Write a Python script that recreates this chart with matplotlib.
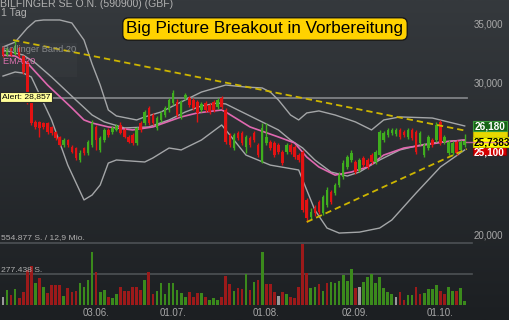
import numpy as np
import matplotlib.pyplot as plt
from matplotlib.patches import Rectangle
from matplotlib.colors import LinearSegmentedColormap

plt.rcParams['font.family'] = ['Liberation Sans', 'DejaVu Sans']

# daily candles (EUR), first one at end of April, last one early October
open_ = [32.92, 32.31, 32.84, 32.40, 32.92, 32.23, 31.72, 28.45, 27.06, 27.06,
         26.98, 26.98, 26.70, 26.35, 26.00, 25.45, 25.79, 25.32, 25.25, 24.46,
         25.25, 24.92, 25.45, 26.70, 25.12, 25.79, 26.49, 26.35, 26.49, 26.84,
         26.49, 26.00, 26.14, 25.59, 26.98, 26.98, 28.08, 27.56, 26.63, 27.20,
         27.56, 27.93, 28.45, 28.53, 27.42, 28.83, 28.83, 28.68, 28.53, 27.93,
         28.45, 28.30, 28.53, 28.15, 28.83, 27.93, 26.14, 25.25, 26.28, 26.28,
         25.32, 25.93, 26.28, 25.45, 24.33, 25.59, 25.66, 25.59, 25.45, 24.99,
         24.99, 25.45, 25.32, 24.78, 24.99, 22.00, 21.03, 21.54, 21.88, 21.25,
         21.71, 22.47, 22.41, 22.89, 23.38, 24.01, 24.46, 24.33, 23.82, 24.59,
         24.46, 24.78, 24.33, 24.78, 25.79, 26.14, 26.28, 26.21, 26.49, 26.35,
         26.00, 26.49, 26.35, 25.59, 24.78, 25.25, 25.79, 25.79, 27.06, 25.66,
         24.92, 24.92, 25.66, 25.12, 25.45]
close = [32.31, 32.84, 32.31, 33.09, 32.23, 30.89, 28.53, 26.98, 26.70, 26.63,
         26.70, 26.35, 26.28, 25.93, 25.45, 25.79, 25.45, 24.99, 24.59, 24.92,
         24.92, 25.66, 26.98, 25.79, 25.93, 26.49, 26.14, 26.63, 26.77, 26.28,
         26.00, 25.66, 25.59, 26.63, 26.49, 27.78, 26.98, 26.98, 27.34, 27.71,
         28.08, 28.68, 29.22, 27.56, 28.53, 29.06, 28.30, 28.08, 27.71, 28.38,
         27.93, 27.78, 27.93, 28.68, 28.15, 25.66, 25.45, 26.14, 25.93, 25.59,
         26.00, 25.45, 25.79, 24.78, 26.63, 26.00, 25.25, 24.78, 24.99, 24.26,
         25.45, 24.99, 24.65, 24.46, 21.42, 20.97, 21.31, 21.25, 21.31, 22.18,
         22.59, 21.88, 22.89, 23.50, 24.26, 24.65, 24.92, 23.69, 24.46, 24.13,
         24.01, 24.33, 24.99, 26.35, 26.28, 26.49, 26.49, 26.49, 26.00, 26.14,
         26.49, 25.93, 24.99, 26.28, 25.45, 26.00, 25.45, 26.84, 25.59, 26.00,
         25.66, 25.59, 24.92, 25.66, 25.74]
high = [33.09, 33.01, 33.01, 33.62, 33.09, 32.31, 31.89, 28.53, 27.20, 27.13,
        27.06, 27.06, 26.77, 26.42, 26.07, 25.93, 25.86, 25.45, 25.32, 25.12,
        25.32, 25.79, 27.20, 26.84, 26.07, 26.63, 26.63, 26.77, 26.91, 27.06,
        26.63, 26.14, 26.28, 26.70, 27.13, 27.93, 28.23, 27.71, 27.49, 27.86,
        28.23, 28.83, 29.45, 28.76, 28.68, 29.22, 28.98, 28.83, 28.68, 28.53,
        28.60, 28.45, 28.68, 28.83, 28.98, 28.08, 26.28, 26.28, 26.42, 26.42,
        26.14, 26.07, 26.42, 25.59, 26.98, 26.98, 25.79, 25.72, 25.59, 25.12,
        25.59, 25.59, 25.45, 24.92, 25.12, 22.12, 21.54, 21.71, 22.00, 22.29,
        22.77, 22.59, 23.01, 23.69, 24.46, 24.78, 25.12, 24.46, 24.59, 24.72,
        24.59, 24.92, 25.12, 26.49, 26.42, 26.63, 26.63, 26.63, 26.63, 26.49,
        26.63, 26.63, 26.49, 26.42, 25.59, 26.14, 25.93, 27.06, 27.20, 26.14,
        25.79, 25.72, 25.79, 25.79, 26.18]
low = [32.14, 32.23, 32.23, 32.31, 32.06, 30.72, 28.38, 26.84, 26.56, 26.00,
       26.56, 26.21, 26.14, 25.79, 25.39, 25.32, 25.32, 24.92, 24.46, 24.33,
       24.78, 24.78, 25.32, 25.12, 24.99, 25.66, 26.00, 26.21, 26.42, 26.21,
       25.93, 25.59, 25.45, 25.45, 26.35, 26.84, 26.84, 26.84, 26.49, 27.06,
       27.42, 27.78, 28.30, 27.42, 27.27, 28.68, 28.15, 27.93, 27.06, 27.78,
       27.78, 27.63, 27.78, 28.00, 28.00, 25.52, 25.32, 25.12, 25.79, 25.45,
       24.92, 25.32, 25.66, 24.65, 24.26, 25.45, 25.12, 24.65, 24.85, 24.13,
       24.85, 24.85, 24.52, 24.33, 21.31, 20.75, 20.92, 21.08, 21.20, 21.14,
       21.60, 21.77, 22.29, 22.77, 23.25, 23.88, 24.33, 23.56, 23.69, 24.01,
       23.88, 24.20, 24.20, 24.65, 25.66, 26.00, 26.14, 26.07, 25.86, 26.00,
       25.86, 25.79, 24.85, 25.45, 24.65, 25.12, 25.32, 25.66, 25.45, 25.52,
       24.78, 24.78, 24.78, 24.99, 25.32]

# volume in thousand shares, g = up, r = down, n = unchanged
volume = [69, 134, 90, 143, 63, 119, 313, 352, 200, 240,
          164, 110, 182, 182, 182, 81, 149, 113, 128, 200,
          158, 224, 471, 298, 119, 134, 74, 60, 98, 164,
          125, 125, 164, 164, 134, 224, 298, 98, 128, 200,
          96, 194, 194, 134, 104, 69, 119, 74, 104, 110,
          69, 45, 60, 45, 69, 260, 185, 125, 149, 143,
          277, 134, 203, 224, 471, 188, 188, 119, 81, 119,
          98, 74, 65, 164, 546, 284, 149, 158, 188, 128,
          194, 206, 194, 215, 268, 215, 319, 149, 158, 203,
          253, 277, 194, 248, 155, 113, 98, 74, 119, 45,
          90, 90, 164, 98, 110, 143, 143, 179, 125, 98,
          158, 125, 128, 149, 40]
vol_dir = ("ngrgrrrrgr" "grrrrgrrrg" "gggrggrggr" "rrrrrgrrgg" "ggggggrrrg"
           "rgggrrrgrr" "grgrgrrrnr" "grrrrrggrg" "rggggggrng" "gggggggnrr"
           "ggrrggggrr" "ggrgg")

# indicator lines (candle index, price)
upper_i = [0, 3, 6, 8, 10, 14, 17, 20, 22, 24, 26, 28, 33, 35, 39, 44, 49, 55, 60,
           64, 66, 68, 71, 73, 75, 78, 82, 87, 91, 94, 98, 106, 114]
upper_v = [33.01, 33.44, 34.71, 35.37, 35.46, 35.46, 35.18, 33.62, 31.55, 29.84,
           27.93, 27.49, 27.20, 27.42, 27.78, 28.53, 29.29, 29.84, 29.68, 29.61,
           29.29, 28.68, 27.56, 27.20, 27.71, 27.86, 27.56, 27.06, 26.49, 27.20,
           27.42, 27.34, 26.77]
mid_i = [0, 5, 8, 12, 18, 22, 25, 30, 36, 41, 45, 49, 53, 55, 58, 63, 68, 71, 74,
         77, 81, 85, 88, 93, 98, 103, 108, 114]
mid_v = [32.75, 32.31, 31.64, 30.48, 28.68, 27.56, 27.06, 26.63, 26.70, 27.20,
         27.78, 28.23, 28.45, 28.38, 27.93, 27.20, 26.49, 25.79, 25.25, 24.46,
         23.69, 23.44, 23.69, 24.46, 25.12, 25.45, 25.66, 25.79]
ema_i = [0, 3, 6, 11, 17, 20, 22, 26, 32, 37, 44, 48, 54, 55, 61, 68, 72, 75, 78,
         82, 86, 90, 94, 99, 104, 109, 114]
ema_v = [32.31, 32.23, 31.64, 29.84, 28.08, 27.20, 26.98, 26.70, 26.49, 26.70,
         27.42, 27.71, 27.93, 27.78, 26.70, 26.00, 25.59, 24.65, 24.01, 23.50,
         23.69, 24.01, 24.78, 25.25, 25.45, 25.66, 25.79]
lower_i = [0, 3, 5, 7, 12, 16, 20, 22, 24, 26, 28, 35, 37, 41, 44, 49, 54, 56, 60,
           66, 73, 74, 77, 80, 83, 88, 93, 96, 102, 108, 114]
lower_v = [30.56, 30.89, 30.80, 30.48, 27.20, 24.13, 22.00, 22.29, 22.89, 24.26,
           24.46, 24.33, 24.59, 25.25, 25.12, 25.79, 26.84, 26.14, 24.78, 24.13,
           23.82, 23.19, 21.42, 20.42, 20.15, 20.20, 20.42, 20.86, 22.41, 24.01,
           25.12]

# triangle trend lines
trend_hi_i = [2.5, 114.5]
trend_hi_v = [33.62, 26.42]
trend_lo_i = [75, 114.5]
trend_lo_v = [20.75, 25.19]

alert = 28.857
date_idx = [23, 42, 65, 87, 108]
date_lbl = ['03.06.', '01.07.', '01.08.', '02.09.', '01.10.']
price_ticks = [20, 30, 35]

W, H = 510, 320


def fx(px):
    return px / W


def fy(py):
    return 1 - py / H


fig = plt.figure(figsize=(W / 100, H / 100), dpi=100)

# background gradient
bg = fig.add_axes([0, 0, 1, 1])
bg.axis('off')
cmap = LinearSegmentedColormap.from_list('bg', ['#35393d', '#1c1f22'])
bg.imshow(np.linspace(0, 1, 256).reshape(-1, 1), aspect='auto', cmap=cmap,
          extent=[0, 1, 0, 1])
bg.set_xlim(0, 1)
bg.set_ylim(0, 1)

xlim = (-0.74, 115.8)

# volume panel (drawn first, lies under the price chart)
axv = fig.add_axes([0, 15 / H, 472 / W, 62 / H])
axv.axis('off')
axv.set_xlim(*xlim)
axv.set_ylim(0, 554.877)
vcol = {'g': '#3b8a1c', 'r': '#9c1a1a', 'n': '#9a9a9a'}
axv.bar(np.arange(len(volume)), volume, width=0.65,
        color=[vcol[c] for c in vol_dir], lw=0)
for lv in [554.877, 277.438]:
    axv.axhline(lv, color='#4d5155', lw=1.2, clip_on=False, zorder=0)

# price panel
ax = fig.add_axes([0, 0, 472 / W, 1])
ax.axis('off')
ax.set_yscale('log')
ax.set_xlim(*xlim)
ax.set_ylim(16.0, 37.39)

ax.axhline(alert, xmax=467 / 472, color='#7e8185', lw=1.3, zorder=1)

ax.plot(upper_i, upper_v, color='#a4a6a8', lw=1, zorder=2)
ax.plot(lower_i, lower_v, color='#a4a6a8', lw=1, zorder=2)
ax.plot(mid_i, mid_v, color='#a4a6a8', lw=1, zorder=2)
ax.plot(ema_i, ema_v, color='#e068b0', lw=1.2, zorder=3)

x = np.arange(len(close))
o = np.array(open_)
c = np.array(close)
cols = np.where(c >= o, '#3fae1e', '#e31212')
ax.vlines(x, low, high, colors=cols, lw=1, zorder=4)
ax.bar(x, np.maximum(np.abs(c - o), 0.05), bottom=np.minimum(o, c),
       width=0.62, color=cols, lw=0, zorder=5)

ax.plot(trend_hi_i, trend_hi_v, color='#cdb500', lw=1.3, ls=(0, (3.5, 2.2)), zorder=6)
ax.plot(trend_lo_i, trend_lo_v, color='#cdb500', lw=1.3, ls=(0, (3.5, 2.2)), zorder=6)

# date labels
for i, lbl in zip(date_idx, date_lbl):
    ax.text(i, fy(313), lbl, transform=ax.get_xaxis_transform(), color='#a8a8a8',
            fontsize=7, ha='center', va='center')

# price axis labels on the right
for p in price_ticks:
    ax.text(488 / 472, p, f'{p},000', transform=ax.get_yaxis_transform(),
            color='#a8a8a8', fontsize=7, ha='center', va='center', clip_on=False)

# header texts
fig.text(fx(0), fy(4), 'BILFINGER SE O.N. (590900) (GBF)', color='#b0b0b0',
         fontsize=7.6, ha='left', va='center')
fig.text(fx(1), fy(12.5), '1 Tag', color='#b0b0b0', fontsize=7.6, ha='left', va='center')

fig.add_artist(Rectangle((fx(0), fy(77)), 77 / W, 34 / H, transform=fig.transFigure,
                         fc='white', alpha=0.025, lw=0))
fig.text(fx(3), fy(50), 'Bollinger Band 20', color='#8e9194', fontsize=6.7,
         ha='left', va='center', alpha=0.9)
fig.text(fx(3), fy(62), 'EMA 20', color='#d970ad', fontsize=6.7, ha='left', va='center')

fig.text(fx(265), fy(29), 'Big Picture Breakout in Vorbereitung', fontsize=12.3,
         color='black', ha='center', va='center',
         bbox=dict(boxstyle='round,pad=0.22,rounding_size=0.35', fc='#ffd200',
                   ec='#1a1a1a', lw=1))

fig.text(fx(2), fy(97), 'Alert: 28,857', fontsize=6.1, color='black', ha='left',
         va='center', bbox=dict(boxstyle='square,pad=0.22', fc='#ffff99',
                                ec='#2a2a2a', lw=0.8))

fig.text(fx(1), fy(238), '554.877 S. / 12,9 Mio.', color='#b0b0b0', fontsize=6.1,
         ha='left', va='center')
fig.text(fx(1), fy(270), '277.438 S.', color='#b0b0b0', fontsize=6.1,
         ha='left', va='center')


# price boxes on the right
def tag(y0, y1, x1, fc, ec, txt=None, tc='white', dy=0.3):
    fig.add_artist(Rectangle((fx(473), fy(y1)), (x1 - 473) / W, (y1 - y0) / H,
                             transform=fig.transFigure, fc=fc, ec=ec, lw=0.8))
    if txt:
        fig.text(fx((473 + x1) / 2), fy((y0 + y1) / 2 + dy), txt, color=tc,
                 fontsize=7.2, ha='center', va='center', fontweight='bold')


tag(130, 138, 507, '#e8d800', '#b8a800')
tag(147, 155, 506, '#d40000', '#8a0000', '25,100', 'white', dy=1.5)
tag(121, 131, 507, '#176417', '#3c9c3c', '26,180', 'white')
tag(137, 147, 510, '#ffff00', '#c8c800', '25,7383', 'black')
fig.add_artist(plt.Line2D([fx(466), fx(510)], [fy(141.5), fy(141.5)],
                          transform=fig.transFigure, color='#e070b0', lw=1, alpha=0.8))

fig.savefig('out.png', dpi=100)
